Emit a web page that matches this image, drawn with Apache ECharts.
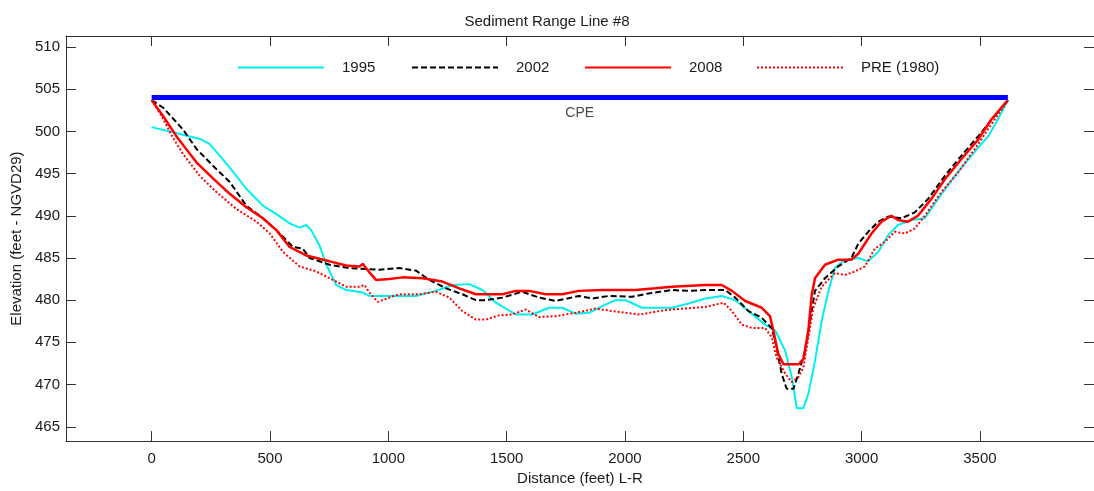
<!DOCTYPE html>
<html>
<head>
<meta charset="utf-8">
<title>Sediment Range Line #8</title>
<script src="https://cdn.jsdelivr.net/npm/echarts@6/dist/echarts.min.js"></script>
<style>
  html, body { margin: 0; padding: 0; background: #fff; }
  #chart { width: 1094px; height: 491px; }
</style>
</head>
<body>
<div id="chart"></div>
<script>
// Cross-section survey profiles: [distance (ft), elevation (ft NGVD29)]
const s1995 = [[0,500.5],[91,499.9],[204,499.1],[246,498.5],[330,495.7],[400,493.2],[470,491.2],[527,490.2],[583,489.1],[625,488.6],[653,488.9],[674,488.3],[709,486.5],[738,484.2],[780,481.8],[822,481.2],[892,480.9],[920,480.5],[1004,480.5],[1117,480.5],[1201,481.1],[1271,481.8],[1342,481.9],[1398,481.2],[1454,479.7],[1539,478.3],[1609,478.3],[1679,479.1],[1735,479.1],[1791,478.4],[1848,478.5],[1904,479.3],[1960,480.0],[2002,480.0],[2072,479.1],[2199,479.1],[2269,479.6],[2340,480.2],[2409,480.5],[2466,480.0],[2536,478.4],[2592,477.1],[2635,476.4],[2677,474.0],[2705,470.9],[2726,467.2],[2754,467.2],[2775,468.9],[2803,472.8],[2831,477.5],[2859,481.0],[2887,483.8],[2930,484.8],[2986,485.0],[3028,484.6],[3070,485.7],[3112,487.7],[3154,488.9],[3210,489.5],[3267,489.7],[3323,492.0],[3393,494.7],[3463,497.1],[3506,498.5],[3534,499.4],[3576,501.4],[3618,503.7]];
const s2002 = [[0,503.7],[49,502.8],[133,500.2],[190,497.9],[260,495.9],[330,494.0],[400,491.2],[470,489.7],[527,488.3],[597,486.3],[639,486.1],[667,485.0],[752,484.2],[836,483.8],[962,483.6],[1047,483.8],[1117,483.5],[1173,482.4],[1244,481.4],[1313,480.7],[1370,480.0],[1412,480.0],[1482,480.3],[1566,481.0],[1637,480.3],[1707,479.9],[1805,480.5],[1862,480.2],[1932,480.5],[2030,480.4],[2100,480.8],[2199,481.2],[2269,481.1],[2340,481.2],[2424,481.2],[2466,480.3],[2522,478.7],[2578,477.9],[2620,476.7],[2641,474.4],[2662,471.3],[2683,469.5],[2712,469.5],[2733,471.3],[2761,474.0],[2782,477.5],[2803,481.1],[2845,482.6],[2901,484.0],[2957,485.0],[2986,486.7],[3028,488.1],[3070,489.3],[3112,489.9],[3168,489.7],[3225,490.4],[3281,492.0],[3351,494.7],[3421,497.1],[3492,499.4],[3562,501.8],[3618,503.7]];
const s2008 = [[0,503.7],[49,501.8],[105,499.4],[190,496.3],[260,494.4],[330,492.6],[400,491.0],[470,489.7],[527,488.3],[583,486.3],[653,485.3],[752,484.6],[822,484.1],[878,484.0],[892,484.3],[920,483.3],[948,482.4],[1004,482.5],[1061,482.7],[1145,482.6],[1229,482.2],[1300,481.4],[1370,480.7],[1482,480.7],[1539,481.1],[1595,481.1],[1665,480.7],[1735,480.7],[1805,481.1],[1904,481.2],[2044,481.2],[2129,481.4],[2199,481.6],[2340,481.8],[2409,481.8],[2452,481.1],[2508,479.9],[2578,479.1],[2613,478.1],[2627,476.4],[2648,473.6],[2670,472.4],[2733,472.4],[2754,473.0],[2775,476.4],[2789,480.6],[2803,482.6],[2845,484.2],[2901,484.8],[2957,484.8],[2986,485.5],[3042,487.9],[3084,489.3],[3126,490.0],[3154,489.5],[3196,489.3],[3238,490.0],[3295,492.0],[3351,494.3],[3421,496.7],[3492,499.0],[3548,501.4],[3618,503.7]];
const sPre1980 = [[0,503.7],[42,501.8],[91,499.2],[133,497.3],[204,494.7],[274,492.8],[358,490.8],[443,489.3],[499,487.9],[555,485.7],[625,484.0],[696,483.4],[752,482.6],[822,481.6],[878,481.6],[899,481.8],[920,480.9],[955,479.8],[1004,480.3],[1047,480.7],[1131,480.7],[1201,481.0],[1258,480.3],[1313,478.7],[1370,477.7],[1412,477.7],[1468,478.2],[1524,478.3],[1581,478.9],[1637,478.0],[1707,478.1],[1791,478.5],[1876,479.0],[1974,478.6],[2065,478.3],[2143,478.7],[2199,478.9],[2340,479.2],[2417,479.7],[2452,478.7],[2494,477.1],[2536,476.7],[2592,476.7],[2620,475.6],[2641,473.2],[2677,471.3],[2705,470.3],[2733,470.9],[2754,472.0],[2775,475.6],[2796,479.1],[2831,481.6],[2887,483.2],[2930,483.0],[2972,483.4],[3014,484.0],[3056,486.1],[3098,486.9],[3140,488.1],[3183,487.9],[3225,488.5],[3267,490.0],[3337,492.8],[3407,495.1],[3478,497.9],[3548,500.8],[3618,503.7]];

// Conservation pool elevation line
const cpeLine = [[0,504],[3618,504]];
const cpeLabelPoint = [[1809,504]];

// Axis ranges and tick values
const xRange = [-362, 3982];
const yRange = [463.3, 511.3];
const xTicks = [0,500,1000,1500,2000,2500,3000,3500];
const yTicks = [465,470,475,480,485,490,495,500,505,510];

const seriesNames = ['1995','2002','2008','PRE (1980)'];

const FONT = 'Liberation Sans, Arial, sans-serif';
const TEXT = '#1a1a1a';
const AXIS = '#333';

const chart = echarts.init(document.getElementById('chart'), null, { renderer: 'canvas' });

function frameAxis(extra) {
  return Object.assign({
    type: 'value',
    axisLine: { show: true, onZero: false, lineStyle: { color: AXIS, width: 1 } },
    splitLine: { show: false },
    axisTick: { show: true, inside: true, length: 10, lineStyle: { color: AXIS } },
    axisLabel: { show: false }
  }, extra);
}

const plain = v => String(v);
const legendLeft = [237, 411, 584, 756];

const option = {
  animation: false,
  backgroundColor: '#fff',
  title: {
    text: 'Sediment Range Line #8',
    left: 'center',
    top: 9,
    textStyle: { fontFamily: FONT, fontSize: 15, fontWeight: 'normal', color: TEXT }
  },
  legend: seriesNames.map((n, i) => ({
    data: [n],
    left: legendLeft[i],
    top: 60,
    itemWidth: 86,
    itemHeight: 14,
    padding: 0,
    itemStyle: { opacity: 0 },
    textStyle: { fontFamily: FONT, fontSize: 15, color: TEXT, padding: [0, 0, 0, 13] }
  })),
  grid: { left: 66, top: 36, width: 1030, height: 408 },
  xAxis: [
    frameAxis({
      position: 'bottom',
      min: xRange[0], max: xRange[1],
      name: 'Distance (feet) L-R',
      nameLocation: 'middle',
      nameGap: 27,
      nameTextStyle: { fontFamily: FONT, fontSize: 15, color: TEXT },
      axisTick: { show: true, inside: true, length: 10, lineStyle: { color: AXIS }, customValues: xTicks },
      axisLabel: { show: true, margin: 10, fontFamily: FONT, fontSize: 15, color: TEXT, customValues: xTicks, formatter: plain }
    }),
    frameAxis({
      position: 'top',
      min: xRange[0], max: xRange[1],
      axisTick: { show: true, inside: true, length: 10, lineStyle: { color: AXIS }, customValues: xTicks }
    })
  ],
  yAxis: [
    frameAxis({
      position: 'left',
      min: yRange[0], max: yRange[1],
      name: 'Elevation (feet - NGVD29)',
      nameLocation: 'middle',
      nameGap: 42,
      nameTextStyle: { fontFamily: FONT, fontSize: 15, color: TEXT },
      axisTick: { show: true, inside: true, length: 10, lineStyle: { color: AXIS }, customValues: yTicks },
      axisLabel: { show: true, margin: 6, fontFamily: FONT, fontSize: 15, color: TEXT, customValues: yTicks, formatter: plain }
    }),
    frameAxis({
      position: 'right',
      min: yRange[0], max: yRange[1],
      axisTick: { show: true, inside: true, length: 10, lineStyle: { color: AXIS }, customValues: yTicks }
    })
  ],
  series: [
    {
      name: '1995', type: 'line', data: s1995, symbol: 'none',
      lineStyle: { color: '#00F0F0', width: 2 }, itemStyle: { color: '#00F0F0' }
    },
    {
      name: '2002', type: 'line', data: s2002, symbol: 'none',
      lineStyle: { color: '#000', width: 2, type: [6, 3] }, itemStyle: { color: '#000' }
    },
    {
      name: '2008', type: 'line', data: s2008, symbol: 'none',
      lineStyle: { color: '#FF0000', width: 2.5 }, itemStyle: { color: '#FF0000' }
    },
    {
      name: 'PRE (1980)', type: 'line', data: sPre1980, symbol: 'none',
      lineStyle: { color: '#FF0000', width: 2, type: [2, 2] }, itemStyle: { color: '#FF0000' }
    },
    {
      name: 'CPE', type: 'line', data: cpeLine, symbol: 'none',
      lineStyle: { color: '#0000FF', width: 5 }, z: 5
    },
    {
      name: 'CPE label', type: 'scatter', data: cpeLabelPoint, symbolSize: 0,
      label: {
        show: true, position: 'bottom', distance: 9,
        formatter: 'CPE', fontFamily: FONT, fontSize: 14, color: TEXT
      }
    }
  ]
};

chart.setOption(option);
</script>
</body>
</html>
